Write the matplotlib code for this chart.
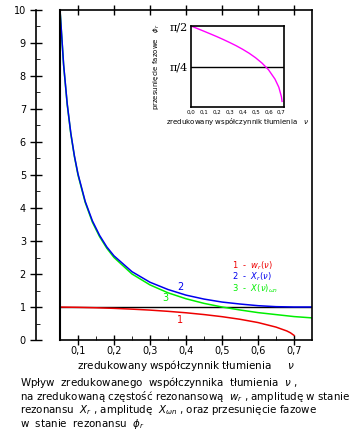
import matplotlib.pyplot as plt
from matplotlib.ticker import FixedLocator, MultipleLocator, FuncFormatter

# tłumienie (zredukowany współczynnik)
nu = [0.05, 0.06, 0.07, 0.08, 0.09, 0.10, 0.12, 0.14, 0.16, 0.18, 0.20,
      0.25, 0.30, 0.35, 0.40, 0.45, 0.50, 0.55, 0.60, 0.65, 0.70, 0.75]
# 3 - amplituda przy w = wn
x_wn = [10.0, 8.33, 7.14, 6.25, 5.56, 5.00, 4.17, 3.57, 3.13, 2.78, 2.50,
        2.00, 1.67, 1.43, 1.25, 1.11, 1.00, 0.91, 0.83, 0.77, 0.71, 0.67]
# 2 - amplituda rezonansowa
x_r = [10.01, 8.35, 7.16, 6.27, 5.58, 5.03, 4.20, 3.61, 3.17, 2.82, 2.55,
       2.07, 1.75, 1.53, 1.36, 1.24, 1.15, 1.09, 1.04, 1.01, 1.00, 1.00]
# 1 - czestosc rezonansowa
nu_w = [0.05, 0.10, 0.15, 0.20, 0.25, 0.30, 0.35, 0.40, 0.45, 0.50,
        0.55, 0.60, 0.65, 0.68, 0.69, 0.70]
w_r = [0.998, 0.990, 0.977, 0.959, 0.935, 0.906, 0.869, 0.825, 0.771, 0.707,
       0.628, 0.529, 0.391, 0.274, 0.219, 0.141]
# przesuniecie fazowe (inset)
nu_phi = [0.0, 0.05, 0.10, 0.15, 0.20, 0.25, 0.30, 0.35, 0.40, 0.45, 0.50,
          0.55, 0.60, 0.65, 0.68, 0.70, 0.705]
phi_r = [1.571, 1.521, 1.470, 1.418, 1.365, 1.309, 1.250, 1.188, 1.119, 1.043,
         0.955, 0.851, 0.723, 0.542, 0.383, 0.199, 0.109]

caption_lines = ['Wpływ  zredukowanego  współczynnika  tłumienia  $\\nu$ ,',
                 'na zredukowaną częstość rezonansową  $w_r$ , amplitudę w stanie',
                 'rezonansu  $X_r$ , amplitudę  $X_{\\omega n}$ , oraz przesunięcie fazowe',
                 'w  stanie  rezonansu  $\\phi_r$']

fig = plt.figure(figsize=(3.6, 4.36), dpi=100)
ax = fig.add_axes([60/360, 1-340/436, 252/360, 330/436])

ax.axhline(1.0, color='black', lw=1)
ax.plot(nu, x_wn, color='#00ee00', lw=1.1)
ax.plot(nu, x_r, color='#0000ee', lw=1.1)
ax.plot(nu_w, w_r, color='#ee0000', lw=1.1)

ax.set_xlim(0.05, 0.75)
ax.set_ylim(0, 10)

comma = FuncFormatter(lambda v, p: ('%.1f' % v).replace('.', ','))
ax.xaxis.set_major_locator(FixedLocator([0.1, 0.2, 0.3, 0.4, 0.5, 0.6, 0.7]))
ax.xaxis.set_minor_locator(FixedLocator([0.15, 0.25, 0.35, 0.45, 0.55, 0.65]))
ax.xaxis.set_major_formatter(comma)
ax.tick_params(axis='x', which='major', direction='inout', length=7, width=1,
               labelsize=7, top=True, pad=1)
ax.tick_params(axis='x', which='minor', direction='in', length=3, top=False)
ax.yaxis.set_major_locator(MultipleLocator(1))
ax.yaxis.set_minor_locator(MultipleLocator(0.5))
ax.tick_params(axis='y', which='major', direction='inout', length=9, width=1,
               labelsize=7, pad=3)
ax.tick_params(axis='y', which='minor', direction='in', length=3)
ax.spines['left'].set_position(('outward', 17))
ax.axvline(0.05, color='black', lw=1.5, clip_on=False)
for s in ax.spines.values():
    s.set_linewidth(1.2)

ax.set_xlabel('zredukowany współczynnik tłumienia     $\\nu$',
              fontsize=7.5, labelpad=1)

ax.text(0.528, 2.18, '1  -  $w_r(\\nu)$', color='#ee0000', fontsize=6)
ax.text(0.528, 1.82, '2  -  $X_r(\\nu)$', color='#0000ee', fontsize=6)
ax.text(0.528, 1.46, '3  -  $X(\\nu)_{\\omega n}$', color='#00ee00', fontsize=6)
ax.text(0.375, 1.50, '2', color='#0000ee', fontsize=7)
ax.text(0.335, 1.18, '3', color='#00ee00', fontsize=7)
ax.text(0.375, 0.52, '1', color='#ee0000', fontsize=7)

# inset: przesuniecie fazowe
ins = fig.add_axes([191/360, 1-107/436, 93/360, 81/436])
ins.axhline(0.785, color='black', lw=1)
ins.plot(nu_phi, phi_r, color='#ff00ff', lw=1)
ins.set_xlim(0, 0.72)
ins.set_ylim(0, 1.571)
ins.set_xticks([0.0, 0.1, 0.2, 0.3, 0.4, 0.5, 0.6, 0.7])
ins.xaxis.set_major_formatter(comma)
ins.tick_params(axis='x', length=0, labelsize=4, pad=2)
ins.set_yticks([0.785, 1.571])
ins.set_yticklabels(['π/4', 'π/2'], family='DejaVu Serif', fontsize=8)
ins.tick_params(axis='y', length=0, pad=2)
ins.set_xlabel('zredukowany współczynnik tłumienia   $\\nu$', fontsize=5, labelpad=1)
ins.set_ylabel('przesunięcie fazowe   $\\phi_r$', fontsize=5, labelpad=6)
for s in ins.spines.values():
    s.set_linewidth(1.2)

for i, line in enumerate(caption_lines):
    fig.text(20/360, 1-(386 + 13.7*i)/436, line, fontsize=7.4,
             va='baseline', ha='left')

fig.savefig('out.png', dpi=100)
